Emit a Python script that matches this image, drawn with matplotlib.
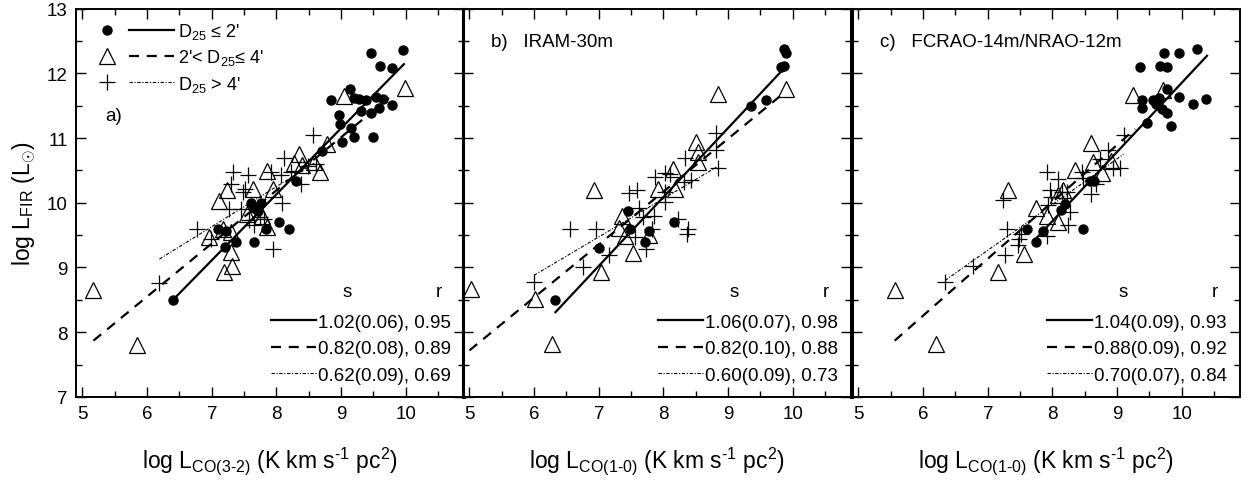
import matplotlib.pyplot as plt
from matplotlib.lines import Line2D
from matplotlib.legend_handler import HandlerTuple

plt.rcParams['font.family'] = ['Liberation Sans', 'DejaVu Sans']
plt.rcParams['mathtext.fontset'] = 'custom'
plt.rcParams['mathtext.rm'] = 'Liberation Sans'
plt.rcParams['mathtext.it'] = 'Liberation Sans:italic'
plt.rcParams['mathtext.bf'] = 'Liberation Sans:bold'

# ---- panel a: CO(3-2) ----
a_circ_x = [9.46, 9.96, 9.60, 9.78, 8.84, 9.14, 9.20, 9.28, 9.38, 9.54, 9.64, 9.30, 9.46, 9.59, 9.79, 8.97, 8.99, 9.16,
            9.02, 9.20, 9.50, 8.70, 8.30, 7.61, 7.76, 7.65, 7.71, 7.09, 7.22, 7.21, 7.37, 7.65, 7.84, 8.04, 8.20, 6.40]
a_circ_y = [12.31, 12.36, 12.11, 12.08, 11.58, 11.76, 11.62, 11.60, 11.59, 11.63, 11.60, 11.41, 11.38, 11.47, 11.51, 11.36,
            11.22, 11.16, 10.94, 11.02, 11.02, 10.80, 10.34, 10.00, 10.00, 9.92, 9.88, 9.60, 9.57, 9.31, 9.40, 9.39, 9.60,
            9.70, 9.60, 8.50]
a_tri_x = [5.17, 5.85, 9.04, 9.98, 8.78, 8.35, 8.27, 8.58, 8.68, 7.86, 7.11, 7.23, 7.64, 7.94, 7.55, 7.77, 6.96, 7.17,
           7.29, 7.30, 7.32, 7.19, 7.86, 8.40]
a_tri_y = [8.66, 7.81, 11.65, 11.77, 10.91, 10.76, 10.62, 10.63, 10.47, 10.49, 10.02, 10.19, 10.21, 10.22, 9.83, 9.80,
           9.47, 9.60, 9.55, 9.24, 9.03, 8.93, 9.62, 10.58]
a_plus_x = [8.57, 6.19, 6.77, 6.98, 7.33, 7.29, 7.56, 7.52, 7.48, 7.45, 7.94, 8.09, 8.11, 8.07, 7.92, 8.38, 8.22, 8.48,
            8.61, 7.57, 7.75, 7.80, 7.65, 7.27]
a_plus_y = [11.04, 8.76, 9.60, 9.44, 10.48, 10.29, 10.43, 10.21, 10.16, 9.90, 9.29, 10.00, 10.69, 10.43, 10.47, 10.29,
            10.47, 10.57, 10.60, 9.73, 9.78, 9.75, 9.65, 9.90]
a_fit_x = [[6.40, 9.97], [5.17, 9.74], [6.19, 8.60]]
a_fit_y = [[8.50, 12.14], [7.87, 11.62], [9.13, 10.62]]
a_stats = ["1.02(0.06), 0.95", "0.82(0.08), 0.89", "0.62(0.09), 0.69"]

# ---- panel b: IRAM-30m CO(1-0) ----
b_circ_x = [9.86, 9.89, 9.81, 9.87, 9.35, 9.59, 7.45, 7.48, 7.00, 7.77, 7.72, 8.17, 6.33]
b_circ_y = [12.37, 12.32, 12.09, 12.11, 11.49, 11.58, 9.88, 9.60, 9.30, 9.56, 9.39, 9.70, 8.50]
b_tri_x = [5.02, 6.01, 6.28, 6.92, 8.85, 9.90, 7.04, 7.53, 7.36, 7.31, 7.40, 7.91, 8.15, 8.18, 8.50, 8.53, 8.54, 7.78]
b_tri_y = [8.67, 8.52, 7.82, 10.20, 11.68, 11.75, 8.93, 9.23, 9.80, 9.61, 9.48, 10.22, 10.52, 10.22, 10.94, 10.78,
           10.63, 9.50]
b_plus_x = [6.56, 6.95, 6.00, 6.76, 7.16, 7.46, 7.59, 7.62, 7.87, 8.03, 8.10, 8.03, 8.03, 7.85, 7.82, 7.73, 8.22, 8.38,
            8.37, 8.33, 8.43, 8.32, 8.82, 8.82, 8.85, 7.56, 7.69]
b_plus_y = [9.60, 9.60, 8.77, 9.00, 9.19, 10.15, 10.19, 9.92, 10.40, 10.46, 10.45, 10.16, 10.01, 9.80, 9.60, 9.29, 9.75,
            9.60, 9.52, 10.69, 10.35, 10.32, 11.07, 10.81, 10.54, 9.47, 9.78]
b_fit_x = [[6.33, 9.85], [5.00, 9.82], [6.00, 8.82]]
b_fit_y = [[8.31, 12.06], [7.72, 11.66], [8.88, 10.55]]
b_stats = ["1.06(0.07), 0.98", "0.82(0.10), 0.88", "0.60(0.09), 0.73"]

# ---- panel c: FCRAO-14m/NRAO-12m CO(1-0) ----
c_circ_x = [9.35, 9.73, 9.95, 10.24, 9.67, 9.77, 9.77, 9.39, 9.38, 9.55, 9.64, 9.60, 9.69, 9.77, 9.96, 10.17, 10.38,
            9.46, 9.83, 8.58, 8.64, 8.19, 8.13, 7.60, 7.85, 7.74, 8.47]
c_circ_y = [12.09, 12.32, 12.32, 12.37, 12.11, 12.10, 11.76, 11.59, 11.46, 11.59, 11.62, 11.52, 11.45, 11.38, 11.63,
            11.52, 11.60, 11.23, 11.18, 10.33, 10.33, 9.98, 9.89, 9.60, 9.56, 9.40, 9.60]
c_tri_x = [5.56, 6.20, 7.15, 7.56, 7.32, 9.24, 8.60, 9.71, 8.35, 8.63, 8.91, 8.76, 7.75, 7.91, 8.09, 8.09, 8.16]
c_tri_y = [8.65, 7.82, 8.93, 9.21, 10.20, 11.67, 10.93, 11.74, 10.50, 10.63, 10.65, 10.46, 9.92, 9.80, 9.70, 10.12, 10.19]
c_plus_x = [6.34, 6.77, 7.26, 7.23, 7.30, 7.49, 7.47, 7.52, 7.92, 7.96, 7.98, 8.09, 8.14, 8.22, 8.27, 8.24, 7.91, 7.93,
            8.45, 8.47, 8.60, 8.68, 8.73, 8.86, 8.94, 9.04, 9.10]
c_plus_y = [8.77, 9.03, 9.19, 10.04, 9.60, 9.44, 9.34, 9.52, 10.48, 10.19, 10.09, 10.37, 10.16, 10.16, 9.85, 9.65, 9.49,
            9.96, 10.47, 10.38, 10.14, 10.29, 10.68, 10.81, 10.53, 10.54, 11.04]
c_fit_x = [[7.74, 10.39], [5.56, 9.28], [6.34, 9.10]]
c_fit_y = [[9.44, 12.27], [7.87, 11.14], [8.80, 10.75]]
c_stats = ["1.04(0.09), 0.93", "0.88(0.09), 0.92", "0.70(0.07), 0.84"]

group_labels = ["D$_{25}$ \u2264 2'", "2'< D$_{25}$\u2264 4'", "D$_{25}$ > 4'"]
panel_titles = ["a)", "b)   IRAM-30m", "c)   FCRAO-14m/NRAO-12m"]
x_labels = [r"log L$_{\text{CO(3-2)}}$ (K km s$^{\text{-1}}$ pc$^{2}$)",
            r"log L$_{\text{CO(1-0)}}$ (K km s$^{\text{-1}}$ pc$^{2}$)",
            r"log L$_{\text{CO(1-0)}}$ (K km s$^{\text{-1}}$ pc$^{2}$)"]

panels = [
    (a_circ_x, a_circ_y, a_tri_x, a_tri_y, a_plus_x, a_plus_y, a_fit_x, a_fit_y, a_stats),
    (b_circ_x, b_circ_y, b_tri_x, b_tri_y, b_plus_x, b_plus_y, b_fit_x, b_fit_y, b_stats),
    (c_circ_x, c_circ_y, c_tri_x, c_tri_y, c_plus_x, c_plus_y, c_fit_x, c_fit_y, c_stats),
]

line_styles = [dict(ls='-', lw=1.6), dict(ls=(0, (4.5, 3.5)), lw=1.6), dict(ls=(0, (3, 1.5, 1, 1.5)), lw=0.8)]
marker_styles = [dict(marker='o', ms=6.5, mfc='black', mec='black'),
                 dict(marker='^', ms=11, mfc='none', mec='black', mew=0.9),
                 dict(marker='+', ms=11, mec='black', mew=0.9)]

fig = plt.figure(figsize=(12.53, 4.85), dpi=100)
lefts = [76 / 1253, 463 / 1253, 852 / 1253]

for i, (cx, cy, tx, ty, px, py, fx, fy, stats) in enumerate(panels):
    ax = fig.add_axes([lefts[i], 0.1794, 388 / 1253, 0.801])
    ax.plot(tx, ty, ls='none', **marker_styles[1])
    ax.plot(px, py, ls='none', **marker_styles[2])
    ax.plot(cx, cy, ls='none', **marker_styles[0])
    fit_lines = []
    for k in range(3):
        ln, = ax.plot(fx[k], fy[k], color='black', **line_styles[k])
        fit_lines.append(ln)

    ax.set_xlim(4.9, 10.9)
    ax.set_ylim(7, 13)
    ax.set_xticks(range(5, 11))
    ax.set_xticks([x + 0.5 for x in range(5, 11)], minor=True)
    ax.set_yticks(range(7, 14))
    ax.set_yticks([y + 0.5 for y in range(7, 13)], minor=True)
    ax.tick_params(which='both', direction='in', top=True, right=True, labelsize=13.5, width=1, pad=6)
    ax.tick_params(which='major', length=7)
    ax.tick_params(which='minor', length=4)
    for sp in ax.spines.values():
        sp.set_linewidth(1.4)
    # panel borders that touch a neighbour look heavier in the original
    if i > 0:
        ax.spines['left'].set_linewidth(2.2)
    if i < 2:
        ax.spines['right'].set_linewidth(2.2)
    if i > 0:
        ax.tick_params(labelleft=False)
    else:
        ax.set_ylabel(r"log L$_{\mathrm{FIR}}$ (L$_{\odot}$)", fontsize=16.5, labelpad=6)
    ax.set_xlabel(x_labels[i], fontsize=16.5, labelpad=16)

    if i == 0:
        ax.text(0.075, 0.725, panel_titles[i], transform=ax.transAxes, fontsize=13.5, va='center')
        handles = [(Line2D([], [], ls='none', color='black', **marker_styles[k]),
                    Line2D([], [], color='black', **line_styles[k])) for k in range(3)]
        leg = ax.legend(handles, group_labels, handler_map={tuple: HandlerTuple(ndivide=None, pad=0)},
                        loc='upper left', bbox_to_anchor=(-0.012, 1.0), frameon=False, fontsize=13,
                        handlelength=5.0, handletextpad=0.2, labelspacing=0.35, borderaxespad=0.3,
                        numpoints=1)
        ax.add_artist(leg)
    else:
        ax.text(0.072, 0.915, panel_titles[i], transform=ax.transAxes, fontsize=13.5, va='center')

    ax.legend(fit_lines, stats, loc='lower right', frameon=False, fontsize=13.5, handlelength=2.4,
              handletextpad=0.1, labelspacing=0.5, borderaxespad=0.3, borderpad=0.4)
    ax.text(0.70, 0.26, "s", transform=ax.transAxes, fontsize=13.5, ha='center', va='baseline')
    ax.text(0.935, 0.26, "r", transform=ax.transAxes, fontsize=13.5, ha='center', va='baseline')

fig.savefig("out.png", dpi=100)
